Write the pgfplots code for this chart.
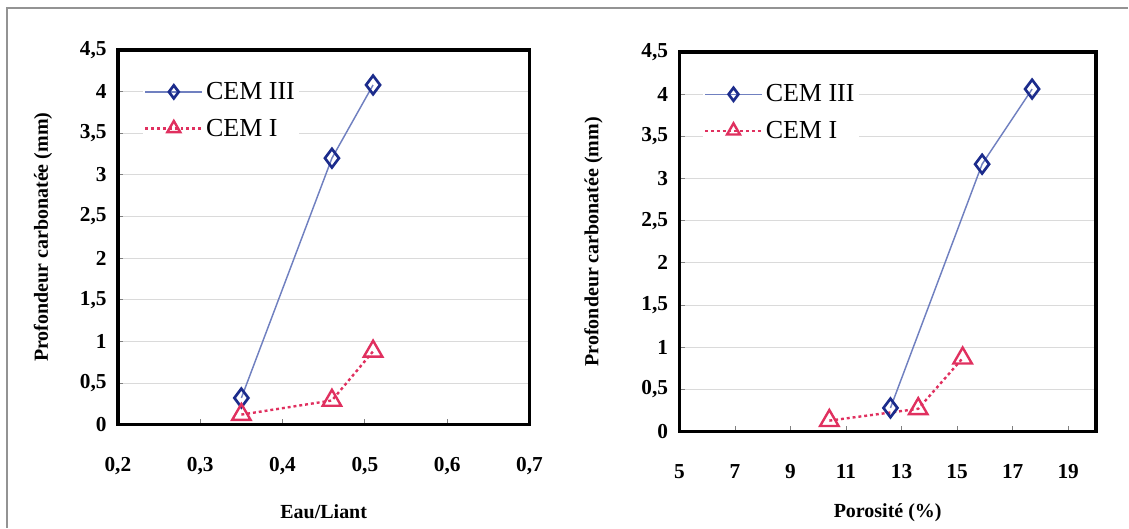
\documentclass[border=0pt]{standalone}
\usepackage{fontspec}
\setmainfont{Liberation Serif}
\usepackage{pgfplots}
\pgfplotsset{compat=1.18}
\definecolor{lineblue}{HTML}{7080C0}
\definecolor{markblue}{HTML}{1C2C8C}
\definecolor{crim}{HTML}{E0305F}
\definecolor{gridgray}{HTML}{DADADA}
\newcommand{\labfont}{\bfseries\fontsize{15}{15}\selectfont}
\pgfplotsset{
  common/.style={
    scale only axis,
    anchor=south west,
    axis line style={line width=2.8pt, black},
    ymin=0, ymax=4.5, ytick={0,0.5,...,4.5},
    ymajorgrids, grid style={gridgray, line width=0.6pt},
    tick align=inside, xtick pos=bottom, ytick pos=left,
    major tick length=4pt, tick style={gray, line width=0.6pt},
    /pgf/number format/.cd, use comma, assume math mode=true,
    /pgfplots/.cd,
    ticklabel style={font=\bfseries\fontsize{16}{16}\selectfont},
    yticklabel style={xshift=-5pt},
    xticklabel style={yshift=-21pt},
    clip=false,
    legend cell align=left,
    legend style={draw=none, fill=white, anchor=north west, inner sep=1pt,
      font=\fontsize{19.5}{20}\selectfont, row sep=9pt},
    legend image code/.code={\draw[##1, mark repeat=2, mark phase=2, every mark/.append style={scale=0.7}] plot coordinates {(0cm,0cm) (0.75cm,0cm) (1.5cm,0cm)};},
  },
  cemiii/.style={color=lineblue, line width=1.1pt, mark=diamond, mark size=7pt,
    mark options={draw=markblue, fill=white, line width=2pt, solid}},
  cemi/.style={color=crim, line width=1.8pt, dash pattern=on 2.2pt off 2.2pt, mark=triangle, mark size=8pt,
    mark options={draw=crim, fill=white, line width=1.8pt, solid}},
}
\begin{document}
\begin{tikzpicture}
\path (0pt,0pt) rectangle (846.75pt,396pt);
\draw[gray!85, line width=1.6pt] (5.25pt,0pt) -- (5.25pt,390pt) -- (846.75pt,390pt);
\begin{axis}[common, at={(88.5pt,77.25pt)}, width=309pt, height=281.25pt,
  xmin=0.2, xmax=0.7, xtick={0.2,0.3,...,0.7},
  xticklabel style={/pgf/number format/fixed, /pgf/number format/precision=1},
  xlabel={Eau/Liant}, ylabel={Profondeur carbonatée (mm)},
  every axis x label/.style={at={(axis description cs:0.5,-0.232)}, anchor=center, font=\labfont},
  every axis y label/.style={at={(axis description cs:-0.182,0.5)}, rotate=90, anchor=center, font=\labfont},
  legend style={at={(axis description cs:0.06,0.925)}},
]
\addplot[cemiii] coordinates {(0.35,0.32) (0.46,3.2) (0.51,4.08)};
\addlegendentry{CEM III}
\addplot[cemi] coordinates {(0.35,0.12) (0.46,0.29) (0.51,0.88)};
\addlegendentry{CEM I}
\end{axis}
\begin{axis}[common, at={(510pt,72pt)}, width=312.75pt, height=285pt,
  xmin=5, xmax=20, xtick={5,7,...,19},
  xlabel={Porosité (\%)}, ylabel={Profondeur carbonatée (mm)},
  every axis x label/.style={at={(axis description cs:0.5,-0.213)}, anchor=center, font=\labfont},
  every axis y label/.style={at={(axis description cs:-0.206,0.5)}, rotate=90, anchor=center, font=\labfont},
  legend style={at={(axis description cs:0.055,0.925)}},
]
\addplot[cemiii] coordinates {(12.6,0.28) (15.9,3.17) (17.7,4.06)};
\addlegendentry{CEM III}
\addplot[cemi] coordinates {(10.4,0.13) (13.6,0.27) (15.2,0.87)};
\addlegendentry{CEM I}
\end{axis}
\end{tikzpicture}
\end{document}
